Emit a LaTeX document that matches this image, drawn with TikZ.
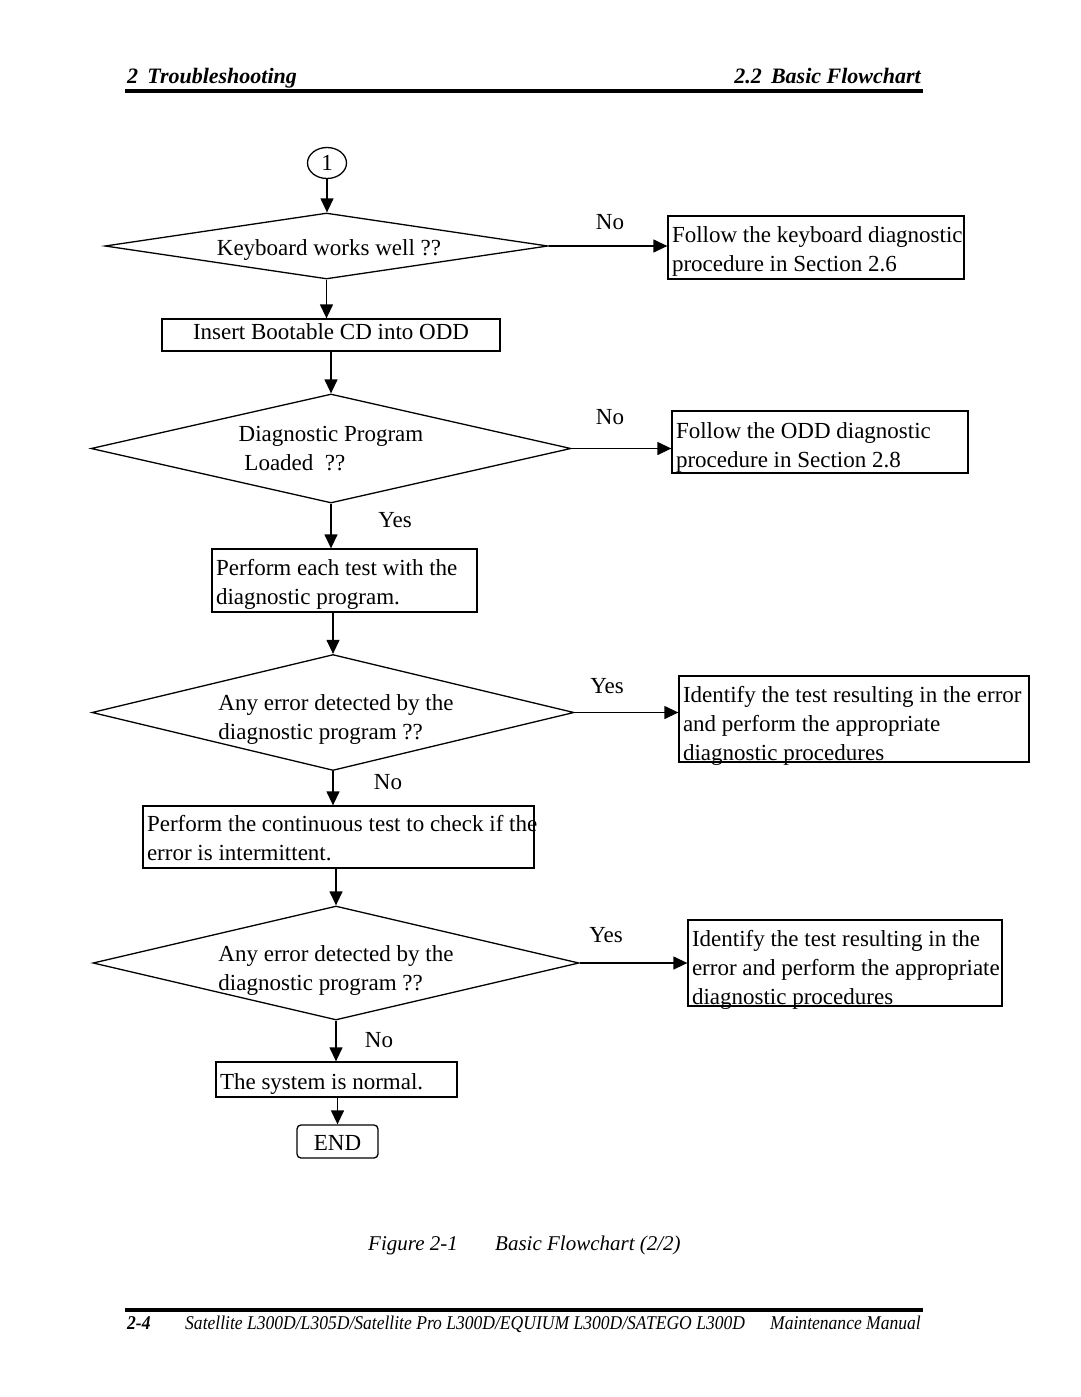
\documentclass[tikz,border=0pt]{standalone}
\usepackage{fontspec}
\setmainfont{Liberation Serif}
\newfontfamily\narrowserif[FakeStretch=0.9]{Liberation Serif}
\usetikzlibrary{arrows.meta,shapes.geometric}
\tikzset{
  base/.style={line width=1.3pt},
  box/.style={base,draw,rectangle,inner sep=0pt,font=\bodyfont},
  dia/.style={base,draw,diamond,inner sep=0pt,font=\bodyfont},
  lbl/.style={inner sep=0pt,font=\bodyfont},
  arr/.style={base,-{Triangle[length=14pt,width=13pt]}},
  rule/.style={line width=3.2pt}
}
\newcommand{\bodyfont}{\fontsize{23}{29}\selectfont}
% lowered paragraph of fixed width
\newcommand{\tb}[3]{\raisebox{-#1}[\height][\depth]{\parbox{#2}{#3}}}
% lowered left-aligned block of natural width
\newcommand{\tl}[2]{\raisebox{-#1}[\height][\depth]{\begin{tabular}{@{}l@{}}#2\end{tabular}}}
\begin{document}
\begin{tikzpicture}[x=1pt,y={(0pt,-1pt)}]
\useasboundingbox (0,0) rectangle (1080,1397);
% header
\node[anchor=base west,inner sep=0pt,font=\bfseries\itshape\fontsize{22}{26}\selectfont] (hl) at (127,83) {2\ \,Troubleshooting};
\node[anchor=base east,inner sep=0pt,font=\bfseries\itshape\fontsize{22}{26}\selectfont] (hr) at (921,83) {2.2\ \,Basic Flowchart};
\coordinate (hr1) at (125,91);
\coordinate (hr2) at (923,91);
\draw[rule] (hr1) -- (hr2);
% flowchart
\node[base,draw,ellipse,minimum width=39pt,minimum height=31pt,inner sep=0pt,font=\bodyfont] (c1) at (327,163) {1};
\node[dia,aspect=6.71,minimum width=443pt,minimum height=66pt] (d1) at (326.5,246) {\tl{4pt}{\hspace*{5pt}Keyboard works well ??}};
\node[box,minimum width=296pt,minimum height=63pt] (b1) at (816,247.5) {\tb{4pt}{288pt}{\mbox{Follow the keyboard diagnostic}\\\mbox{procedure in Section 2.6}}};
\node[box,minimum width=338pt,minimum height=32pt] (b2) at (331,335) {\tl{-1pt}{Insert Bootable CD into ODD}};
\node[dia,aspect=4.40,minimum width=480pt,minimum height=109pt] (d2) at (331,448.5) {\tl{2pt}{Diagnostic Program\\\ Loaded\ \ ??}};
\node[box,minimum width=296pt,minimum height=62pt] (b3) at (820,442) {\tb{5pt}{288pt}{\mbox{Follow the ODD diagnostic}\\\mbox{procedure in Section 2.8}}};
\node[box,minimum width=265pt,minimum height=63pt] (b4) at (344.5,580.5) {\tb{4pt}{257pt}{\mbox{Perform each test with the}\\\mbox{diagnostic program.}}};
\node[dia,aspect=4.157,minimum width=478pt,minimum height=115pt] (d3) at (333,712.5) {\tl{7pt}{\hspace*{6pt}Any error detected by the\\\hspace*{6pt}diagnostic program ??}};
\node[box,minimum width=350pt,minimum height=86pt] (b5) at (854,719) {\tb{6.5pt}{342pt}{\mbox{Identify the test resulting in the error}\\\mbox{and perform the appropriate}\\\mbox{diagnostic procedures}}};
\node[box,minimum width=391pt,minimum height=62pt] (b6) at (338.5,837) {\tb{1pt}{383pt}{\mbox{Perform the continuous test to check if the}\\\mbox{error is intermittent.}}};
\node[dia,aspect=4.263,minimum width=486pt,minimum height=114pt] (d4) at (336,963) {\tl{7pt}{Any error detected by the\\diagnostic program ??}};
\node[box,minimum width=314pt,minimum height=86pt] (b7) at (845,963) {\tb{7pt}{306pt}{\mbox{Identify the test resulting in the}\\\mbox{error and perform the appropriate}\\\mbox{diagnostic procedures}}};
\node[box,minimum width=241pt,minimum height=35pt] (b8) at (336.5,1079.5) {\tb{4pt}{233pt}{The system is normal.}};
\node[box,rounded corners=4pt,minimum width=81pt,minimum height=33pt] (e) at (337.5,1141.5) {\tl{3pt}{END}};
% labels
\node[lbl] (n1) at (610,222) {No};
\node[lbl] (n2) at (610,417) {No};
\node[lbl] (y1) at (395,520) {Yes};
\node[lbl] (y2) at (607,686) {Yes};
\node[lbl] (n3) at (388,782) {No};
\node[lbl] (y3) at (606,935) {Yes};
\node[lbl] (n4) at (379,1040) {No};
% connectors
\draw[arr] (c1.south) -- (c1.south |- d1.north);
\draw[arr] (d1.east) -- (b1.west |- d1.east);
\draw[arr] (d1.south) -- (d1.south |- b2.north);
\draw[arr] (b2.south) -- (b2.south |- d2.north);
\draw[arr] (d2.east) -- (b3.west |- d2.east);
\draw[arr] (d2.south) -- (d2.south |- b4.north);
\draw[arr] (d3.north |- b4.south) -- (d3.north);
\draw[arr] (d3.east) -- (b5.west |- d3.east);
\draw[arr] (d3.south) -- (d3.south |- b6.north);
\draw[arr] (d4.north |- b6.south) -- (d4.north);
\draw[arr] (d4.east) -- (b7.west |- d4.east);
\draw[arr] (d4.south) -- (d4.south |- b8.north);
\draw[arr] (b8.south -| e.north) -- (e.north);
% caption
\node[anchor=base west,inner sep=0pt,font=\itshape\fontsize{21}{25}\selectfont] (cap1) at (368,1250) {Figure 2-1};
\node[anchor=base west,inner sep=0pt,font=\itshape\fontsize{21}{25}\selectfont] (cap2) at (495,1250) {Basic Flowchart (2/2)};
% footer
\coordinate (fr1) at (125,1310);
\coordinate (fr2) at (923,1310);
\draw[rule] (fr1) -- (fr2);
\node[anchor=base west,inner sep=0pt,font=\narrowserif\bfseries\itshape\fontsize{19.5}{22}\selectfont] (f1) at (127,1329) {2-4};
\node[anchor=base west,inner sep=0pt,font=\narrowserif\itshape\fontsize{19.5}{22}\selectfont] (f2) at (185,1329) {Satellite L300D/L305D/Satellite Pro L300D/EQUIUM L300D/SATEGO L300D};
\node[anchor=base east,inner sep=0pt,font=\narrowserif\itshape\fontsize{19.5}{22}\selectfont] (f3) at (921,1329) {Maintenance Manual};
\end{tikzpicture}
\end{document}
